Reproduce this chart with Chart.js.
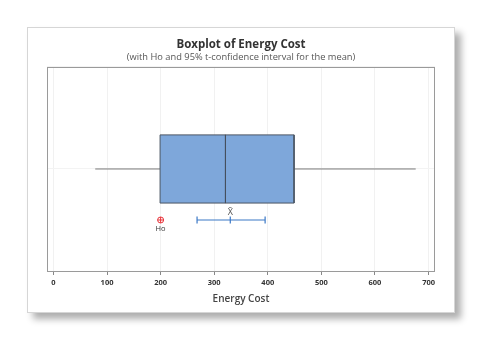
<!DOCTYPE html>
<html>
<head>
<meta charset="utf-8">
<script src="https://cdn.jsdelivr.net/npm/chart.js@4.4.1/dist/chart.umd.min.js"></script>
<style>
  html, body { margin: 0; padding: 0; background: #fff; }
  #card {
    position: absolute; left: 27px; top: 27px;
    width: 428px; height: 286px; box-sizing: border-box;
    border: 1px solid #d6d6d6; background: #fff;
    box-shadow: 6px 6px 7px rgba(0, 0, 0, 0.32);
  }
  #card canvas { position: absolute; left: 0; top: 0; }
</style>
</head>
<body>
<div id="card"><canvas id="boxChart" width="426" height="284"></canvas></div>
<script>
  // Energy Cost summary
  var whiskerEnds = [78, 676];          // min, max
  var quartiles = [199, 321, 449];      // Q1, median, Q3
  var meanInterval = [268, 330, 395];   // lower 95% CI, mean, upper 95% CI
  var hoValue = [200];                  // hypothesised mean
  var xTickValues = [0, 100, 200, 300, 400, 500, 600, 700];

  // vertical rows on the hidden y scale
  var ROW_BOX = 5, BOX_HALF = 1.67, ROW_CI = 2.5;

  var boxTop = ROW_BOX + BOX_HALF, boxBot = ROW_BOX - BOX_HALF;

  // frame around the plot area and the small text labels
  var extras = {
    id: 'extras',
    afterDatasetsDraw: function (chart) {
      var ctx = chart.ctx, a = chart.chartArea;
      var xs = chart.scales.x, ys = chart.scales.y;
      ctx.save();
      ctx.strokeStyle = '#9a9a9a';
      ctx.lineWidth = 1;
      ctx.strokeRect(Math.round(a.left) + 0.5, Math.round(a.top) + 0.5,
        Math.round(a.right - a.left) - 1, Math.round(a.bottom - a.top));

      ctx.textAlign = 'center';
      ctx.textBaseline = 'middle';
      ctx.fillStyle = '#555';
      ctx.font = '9px "Open Sans"';
      var mx = xs.getPixelForValue(meanInterval[1]);
      var my = ys.getPixelForValue(ROW_CI);
      ctx.fillText('X\u0304', mx, my - 8);

      ctx.fillStyle = '#333';
      ctx.font = '7.5px "Open Sans"';
      ctx.fillText('Ho', xs.getPixelForValue(hoValue[0]), my + 9);
      ctx.restore();
    }
  };

  var ctx = document.getElementById('boxChart').getContext('2d');

  var boxChart = new Chart(ctx, {
    type: 'scatter',
    data: {
      datasets: [
        {
          // median
          data: [{ x: quartiles[1], y: boxTop }, { x: quartiles[1], y: boxBot }],
          showLine: true, borderColor: '#46505e', borderWidth: 1, pointRadius: 0
        },
        {
          // box Q1..Q3
          data: [
            { x: quartiles[0], y: boxTop }, { x: quartiles[2], y: boxTop },
            { x: quartiles[2], y: boxBot }, { x: quartiles[0], y: boxBot },
            { x: quartiles[0], y: boxTop }
          ],
          showLine: true, fill: 'shape', backgroundColor: '#7ea7da',
          borderColor: '#4a5563', borderWidth: 1, pointRadius: 0
        },
        {
          // whiskers
          data: [
            { x: whiskerEnds[0], y: ROW_BOX }, { x: quartiles[0], y: ROW_BOX },
            { x: quartiles[1], y: null },
            { x: quartiles[2], y: ROW_BOX }, { x: whiskerEnds[1], y: ROW_BOX }
          ],
          showLine: true, spanGaps: false, borderColor: '#7a7a7a', borderWidth: 1, pointRadius: 0
        },
        {
          // confidence interval for the mean
          data: meanInterval.map(function (v) { return { x: v, y: ROW_CI }; }),
          showLine: true, borderColor: '#3b78c6', borderWidth: 1.2,
          pointStyle: 'line', rotation: 90, pointRadius: 3.5,
          pointBorderColor: '#3b78c6', pointBorderWidth: 1.2
        },
        {
          // Ho marker: circle with a cross
          data: hoValue.map(function (v) { return { x: v, y: ROW_CI }; }),
          pointStyle: 'circle', pointRadius: 3, borderColor: '#e8333a',
          backgroundColor: 'rgba(255,255,255,0)', borderWidth: 1
        },
        {
          data: hoValue.map(function (v) { return { x: v, y: ROW_CI }; }),
          pointStyle: 'cross', pointRadius: 3, borderColor: '#e8333a', borderWidth: 1
        }
      ]
    },
    options: {
      responsive: false,
      animation: false,
      layout: { padding: { left: 19, right: 19, top: 0, bottom: 7 } },
      plugins: {
        legend: { display: false },
        tooltip: { enabled: false },
        title: {
          display: true, text: 'Boxplot of Energy Cost', color: '#333',
          font: { family: '"Open Sans"', size: 11.5, weight: 'bold' },
          padding: { top: 10, bottom: 0 }
        },
        subtitle: {
          display: true, text: '(with Ho and 95% t-confidence interval for the mean)', color: '#555',
          font: { family: '"Open Sans"', size: 9.3 },
          padding: { bottom: 4 }
        }
      },
      scales: {
        x: {
          type: 'linear', min: -12, max: 712,
          afterBuildTicks: function (scale) {
            scale.ticks = xTickValues.map(function (v) { return { value: v }; });
          },
          grid: { color: '#f1f1f1', tickColor: '#888', tickLength: 4 },
          border: { display: false },
          ticks: { color: '#333', padding: 3, font: { family: '"Open Sans"', size: 7.5, weight: 'bold' } },
          title: {
            display: true, text: 'Energy Cost', color: '#444',
            font: { family: '"Open Sans"', size: 10, weight: '600' },
            padding: { top: 3, bottom: 0 }
          }
        },
        y: {
          type: 'linear', min: 0, max: 10,
          ticks: { display: false, stepSize: 5 },
          grid: { color: '#f3f3f3', drawTicks: false },
          border: { display: false }
        }
      }
    },
    plugins: [extras]
  });
</script>
</body>
</html>
